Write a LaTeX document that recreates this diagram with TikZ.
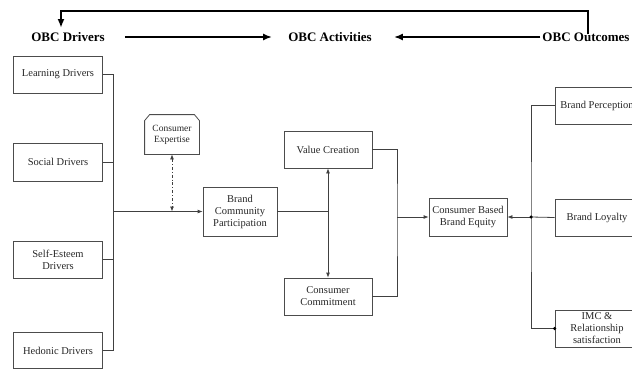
\documentclass[tikz,border=0pt]{standalone}
\usepackage{fontspec}
\setmainfont{Liberation Serif}
\usetikzlibrary{arrows.meta}
\begin{document}
\begin{tikzpicture}[x=1pt,y=-1pt,
 box/.style={draw=black!70,line width=0.8pt,align=center,font=\fontsize{10.5}{12}\selectfont,inner sep=1pt,text=black!85},
 head/.style={font=\fontsize{13}{14}\selectfont\bfseries,inner sep=0pt},
 conn/.style={draw=black!75,line width=0.8pt},
 tip/.style={-{Latex[length=5pt,width=4pt]}},
 bigtip/.style={-{Latex[length=9pt,width=7pt]}, line width=1.8pt},
 dot/.style={circle,fill=black,inner sep=0pt,minimum size=3.5pt}]
\clip (0,0) rectangle (632,370);
% headers
\node[head] (drv) at (68,37) {OBC Drivers};
\node[head] (act) at (330,37) {OBC Activities};
\node[head] (out) at (586,37) {OBC Outcomes};
\draw[bigtip] ([xshift=20pt]drv.east) -- ([xshift=-16pt]act.west);
\draw[bigtip] ([xshift=-2pt]out.west) -- ([xshift=22pt]act.east);
\coordinate (topy) at (0,11);
\coordinate (drvx) at (61,28);
\draw[bigtip] ([xshift=2pt,yshift=-2pt]out.north) -- ([xshift=2pt]out.north |- topy) -- (drvx |- topy) -- (drvx);
% left boxes
\node[box,minimum width=89pt,minimum height=37pt] (L) at (58,74.5) {Learning Drivers};
\node[box,minimum width=89pt,minimum height=38pt] (S) at (58,162) {Social Drivers};
\node[box,minimum width=89pt,minimum height=37pt] (SE) at (58,259.5) {Self-Esteem\\Drivers};
\node[box,minimum width=89pt,minimum height=36pt] (H) at (58,350.5) {Hedonic Drivers};
\node[box,draw=none,minimum width=54pt,minimum height=39pt,font=\fontsize{9.5}{11}\selectfont] (E) at (172,134.5) {Consumer\\Expertise};
\draw[draw=black!70,line width=0.8pt] ([yshift=-6pt]E.north west) -- ([xshift=5pt]E.north west) -- ([xshift=-5pt]E.north east) -- ([yshift=-6pt]E.north east) -- (E.south east) -- (E.south west) -- cycle;
\node[box,minimum width=74pt,minimum height=49pt] (BCP) at (240,211.5) {Brand\\Community\\Participation};
\node[box,minimum width=88pt,minimum height=37pt] (VC) at (328,149.5) {Value Creation};
\node[box,minimum width=88pt,minimum height=37pt] (CC) at (328,296.5) {Consumer\\Commitment};
\node[box,minimum width=78pt,minimum height=38pt] (CB) at (468,217) {Consumer Based\\Brand Equity};
\node[box,minimum width=84pt,minimum height=37pt] (BP) at (597,105.5) {Brand Perception};
\node[box,minimum width=84pt,minimum height=37pt] (BL) at (597,217.5) {Brand Loyalty};
\node[box,minimum width=84pt,minimum height=37pt] (IMC) at (597,328.5) {IMC \&\\Relationship\\satisfaction};
% left bus
\coordinate (busx) at (113,0);
\coordinate (j1) at (113,211.5);
\draw[conn] (L.east) -| (busx |- H.east) -- (H.east);
\draw[conn] (S.east) -- (busx |- S.east);
\draw[conn] (SE.east) -- (busx |- SE.east);
\draw[conn,tip] (j1) -- (BCP.west);
\draw[conn,dash dot,{Latex[length=5pt,width=4pt]}-{Latex[length=5pt,width=4pt]}] (E.south) -- (E.south |- BCP.west);
% middle
\draw[conn] (BCP.east) -- (VC.south |- BCP.east);
\draw[conn,{Latex[length=5pt,width=4pt]}-{Latex[length=5pt,width=4pt]}] (VC.south) -- (CC.north);
\coordinate (m) at (397,217);
\draw[conn] (VC.east) -| (m) |- (CC.east);
\draw[conn,tip] (m) -- (CB.west);
% right bus
\coordinate (rb) at (531,217);
\draw[conn] (BP.west) -| (rb) |- (IMC.west);
\draw[conn] (BL.west) -- (rb);
\draw[conn,tip] (rb) -- (CB.east);
\node[dot] at (rb) {};
\node[dot] at (IMC.west) {};
\end{tikzpicture}
\end{document}
